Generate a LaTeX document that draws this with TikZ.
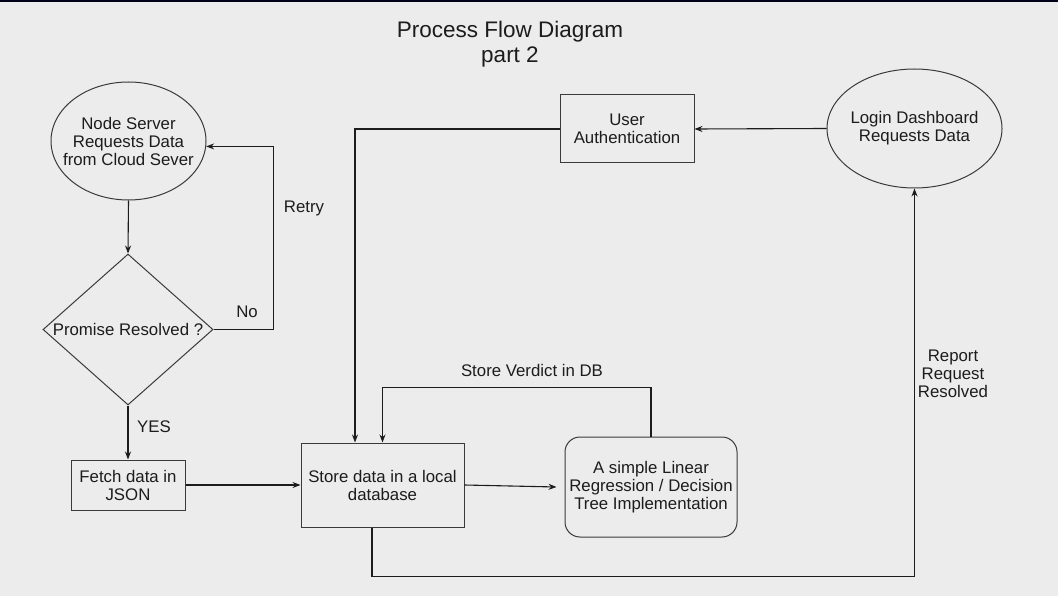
\documentclass[tikz,border=0pt]{standalone}
\usepackage{fontspec}
\setmainfont{Liberation Sans}
\usetikzlibrary{shapes.geometric,arrows.meta}
\definecolor{bg}{HTML}{ECECEC}
\definecolor{ink}{HTML}{1C1C1C}
\definecolor{edge}{HTML}{3A3A3A}
\begin{document}
\begin{tikzpicture}[x=1pt,y=-1pt,>={Stealth[length=8pt,width=6pt]},
  every node/.style={text=ink,font=\fontsize{16.8}{18}\selectfont,align=center},
  oval/.style={draw=edge,line width=1pt,ellipse,inner ysep=0pt},
  box/.style={draw=edge,line width=1pt,rectangle,inner sep=0pt},
  rbox/.style={draw=edge,line width=1pt,rectangle,rounded corners=15pt,inner sep=0pt},
  choice/.style={draw=edge,line width=1pt,diamond,aspect=1.13,inner sep=0pt},
  line/.style={draw=ink,line width=1.1pt}]
\fill[bg] (0,0) rectangle (1058,596);
\fill[black!90!blue] (0,0) rectangle (1058,2);
\node[font=\fontsize{22.5}{24.5}\selectfont] (title) at (510,44) {Process Flow Diagram\\part 2};
\node[oval,inner xsep=-11pt,minimum width=155pt,minimum height=118pt] (ns) at (128.5,141) {Node Server\\Requests Data\\from Cloud Sever};
\node[choice,minimum width=170pt,minimum height=151pt] (pr) at (128,329.5) {Promise Resolved ?};
\node[box,minimum width=114pt,minimum height=50pt] (fj) at (128,485) {Fetch data in\\JSON};
\node[box,minimum width=163pt,minimum height=84pt] (sd) at (382.5,485) {Store data in a local\\database};
\node[rbox,minimum width=172pt,minimum height=100pt] (lr) at (651,487) {A simple Linear\\Regression / Decision\\Tree Implementation};
\node[box,minimum width=134pt,minimum height=68pt] (ua) at (627,129) {User\\Authentication};
\node[oval,inner xsep=-3pt,minimum width=175pt,minimum height=119pt] (ld) at (914.5,128.5) {Login Dashboard\\Requests Data};
\node (no) at (247,312) {No};
\node (retry) at (304,208) {Retry};
\node (yes) at (154,427) {YES};
\node (verdict) at (532,370) {Store Verdict in DB};
\node (report) at (953,374) {Report\\Request\\Resolved};
\draw[line,->] (ns.south) -- (pr.north);
\draw[line,->] (pr.east) -- ++(60,0) |- (ns.-4);
\draw[line,->] (pr.south) -- (fj.north);
\draw[line,->] (fj.east) -- (sd.west);
\draw[line,->] (sd.east) -- ([xshift=-8pt]lr.west);
\draw[line,->] (lr.north) -- ++(0,-49) -| (sd.north);
\draw[line,->] (ld.west) -- (ua.east);
\draw[line,->] (ua.west) -| ([xshift=-27.5pt]sd.north);
\draw[line,->] ([xshift=-10.5pt]sd.south) -- ++(0,49) -| (ld.south);
\end{tikzpicture}
\end{document}
